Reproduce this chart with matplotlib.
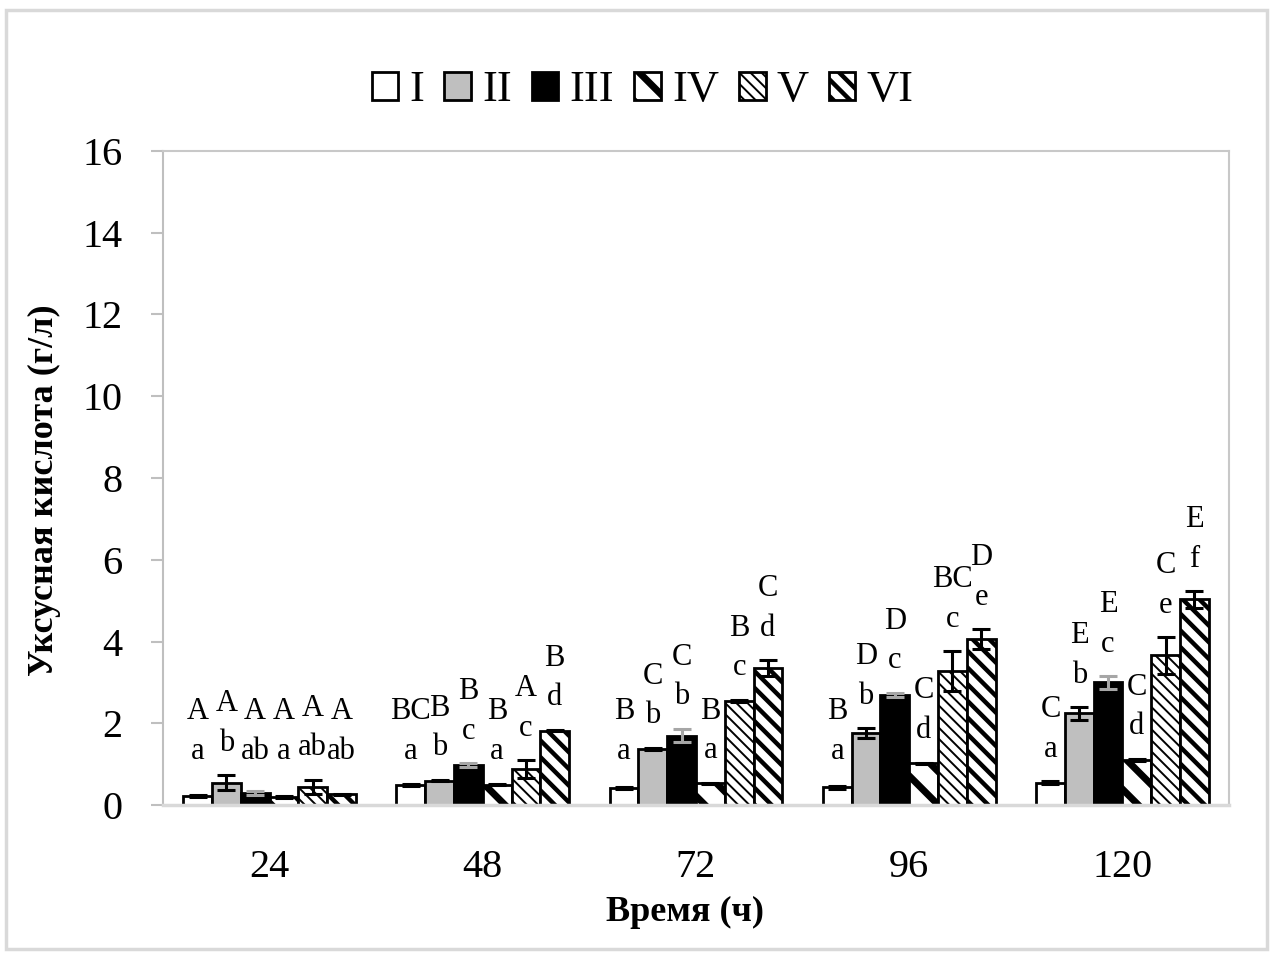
import matplotlib
matplotlib.use('Agg')
import matplotlib.pyplot as plt
from matplotlib.patches import Rectangle
import numpy as np

plt.rcParams['font.family'] = ['Liberation Serif', 'DejaVu Serif']
plt.rcParams['hatch.color'] = 'black'

# data
hours = ['24', '48', '72', '96', '120']
series = ['I', 'II', 'III', 'IV', 'V', 'VI']

val_I = [0.22, 0.49, 0.41, 0.43, 0.55]
val_II = [0.55, 0.60, 1.37, 1.76, 2.24]
val_III = [0.30, 0.97, 1.70, 2.70, 3.00]
val_IV = [0.20, 0.50, 0.53, 1.02, 1.10]
val_V = [0.45, 0.87, 2.55, 3.28, 3.66]
val_VI = [0.26, 1.82, 3.35, 4.06, 5.03]

err_I = [0.03, 0.02, 0.02, 0.03, 0.03]
err_II = [0.18, 0.02, 0.03, 0.12, 0.15]
err_III = [0.05, 0.05, 0.17, 0.05, 0.15]
err_IV = [0.02, 0.02, 0.02, 0.02, 0.03]
err_V = [0.17, 0.22, 0.03, 0.48, 0.45]
err_VI = [0.02, 0.02, 0.20, 0.24, 0.20]

upper = [['A', 'A', 'A', 'A', 'A', 'A'],
         ['BC', 'B', 'B', 'B', 'A', 'B'],
         ['B', 'C', 'C', 'B', 'B', 'C'],
         ['B', 'D', 'D', 'C', 'BC', 'D'],
         ['C', 'E', 'E', 'C', 'C', 'E']]
lower = [['a', 'b', 'ab', 'a', 'ab', 'ab'],
         ['a', 'b', 'c', 'a', 'c', 'd'],
         ['a', 'b', 'b', 'a', 'c', 'd'],
         ['a', 'b', 'c', 'd', 'c', 'e'],
         ['a', 'b', 'c', 'd', 'e', 'f']]

values = [val_I, val_II, val_III, val_IV, val_V, val_VI]
errors = [err_I, err_II, err_III, err_IV, err_V, err_VI]

# styles
faces = ['white', '#bfbfbf', 'black', 'white', 'white', 'white']
hatches = [None, None, None, '\\', '\\\\\\', '\\\\']
hatch_lw = [1, 1, 1, 5.0, 1.4, 3.2]
ecolors = ['black', 'black', '#a6a6a6', 'black', 'black', 'black']


def set_hlw(p, lw):
    if hasattr(p, 'set_hatch_linewidth'):
        p.set_hatch_linewidth(lw)
    else:
        p._hatch_linewidth = lw


fig = plt.figure(figsize=(12.8, 9.61), dpi=100)
ax = fig.add_axes([0.1273, 0.1623, 0.8329, 0.6806])

x = np.arange(len(hours))
w = 0.135
bars = []
for i in range(6):
    plt.rcParams['hatch.linewidth'] = hatch_lw[i]
    pos = x + (i - 2.5) * w
    b = ax.bar(pos, values[i], w, color=faces[i], edgecolor='black',
               linewidth=2.0, hatch=hatches[i], label=series[i], zorder=2)
    for p in b.patches:
        set_hlw(p, hatch_lw[i])
    bars.append(b)
    ax.errorbar(pos, values[i], yerr=errors[i], fmt='none', ecolor=ecolors[i],
                elinewidth=2.2, capsize=6.5, capthick=2.2, zorder=3)
    for j in range(len(hours)):
        low = max(values[i][j] + errors[i][j] + 0.78, 1.32)
        ax.text(pos[j], low, lower[j][i], ha='center', va='center',
                fontsize=22, zorder=4)
        ax.text(pos[j], low + 0.97, upper[j][i], ha='center', va='center',
                fontsize=22, zorder=4)

ax.set_xlim(-0.5, 4.5)
ax.set_ylim(0, 16)
ax.set_yticks(range(0, 17, 2))
ax.set_xticks(x)
ax.set_xticklabels(hours)
ax.tick_params(axis='y', labelsize=29, length=9, width=1.5, color='#bfbfbf', pad=20)
ax.tick_params(axis='x', labelsize=29, length=0, pad=32)

ax.spines['left'].set_color('#bfbfbf')
ax.spines['left'].set_linewidth(1.5)
ax.spines['bottom'].set_color('#d9d9d9')
ax.spines['bottom'].set_linewidth(2.5)
for s in ['top', 'right']:
    ax.spines[s].set_color('#c8c8c8')
    ax.spines[s].set_linewidth(1.5)

fig.text(0.035, 0.49, 'Уксусная кислота (г/л)', rotation=90, ha='center',
         va='center', fontsize=26, fontweight='bold')
fig.text(0.535, 0.051, 'Время (ч)', ha='center', va='center',
         fontsize=26, fontweight='bold')

leg = fig.legend(handles=[b.patches[0] for b in bars], labels=series, loc='center',
                 bbox_to_anchor=(0.502, 0.906), ncol=6, frameon=False, fontsize=32,
                 handlelength=0.6, handleheight=0.6, handletextpad=0.25,
                 columnspacing=0.45)
for p, lw in zip(leg.get_patches(), hatch_lw):
    set_hlw(p, lw)

# outer border of the chart
fig.patches.append(Rectangle((0.005, 0.012), 0.985, 0.978, transform=fig.transFigure,
                             fill=False, edgecolor='#d9d9d9', linewidth=2.5))

fig.savefig('out.png', dpi=100)
